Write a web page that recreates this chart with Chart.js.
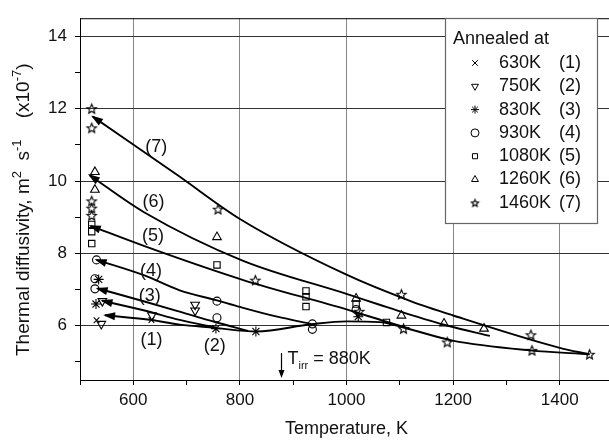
<!DOCTYPE html>
<html>
  <head>
    <title>Thermal diffusivity</title>
    <script src="https://cdn.jsdelivr.net/npm/chart.js"></script>
    <style>
      body {
        margin: 0;
        background: #fff;
      }
      .wrap {
        width: 609px;
        height: 440px;
        overflow: hidden;
      }
    </style>
  </head>

  <body>
    <div class="wrap"><canvas id="myChart" width="640" height="440"></canvas></div>

    <script>
      const annealTemps = ["630K", "750K", "830K", "930K", "1080K", "1260K", "1460K"];
      const curveNames = ["(1)", "(2)", "(3)", "(4)", "(5)", "(6)", "(7)"];
      const xTicks = [600, 800, 1000, 1200, 1400];
      const yTicks = [6, 8, 10, 12, 14];
      const yTickMarks = [5, 6, 7, 8, 9, 10, 11, 12, 13, 14];

      // measured points: temperature (K) / diffusivity (x1e-7 m2/s)
      const t630 = [531, 634];
      const d630 = [6.15, 6.16];
      const t750 = [540, 542, 635, 716, 716];
      const d750 = [6.05, 6.68, 6.29, 6.58, 6.42];
      const t830 = [530, 535, 755, 830, 1022];
      const d830 = [6.6, 7.28, 5.92, 5.84, 6.25];
      const t930 = [528, 528, 531, 757, 757, 936, 936, 1018];
      const d930 = [7.3, 7.02, 7.82, 6.68, 6.22, 6.05, 5.9, 6.45];
      const t1080 = [522, 522, 522, 757, 924, 924, 924, 1018, 1075];
      const d1080 = [8.8, 8.6, 8.27, 7.68, 6.96, 6.8, 6.53, 6.6, 6.09];
      const t1260 = [528, 528, 757, 1018, 1103, 1183, 1258];
      const d1260 = [10.25, 9.76, 8.45, 6.75, 6.28, 6.06, 5.92];
      const t1460 = [522, 522, 522, 522, 522, 759, 829, 1024, 1103, 1107, 1189, 1346, 1348, 1456];
      const d1460 = [12.0, 11.47, 9.45, 9.25, 9.05, 9.22, 7.26, 6.4, 6.87, 5.92, 5.55, 5.75, 5.32, 5.21];

      // fitted curves
      const fitT1 = [547, 634, 687, 752];
      const fitD1 = [6.29, 6.16, 6.03, 5.95];
      const fitT2 = [542, 621, 687, 752];
      const fitD2 = [6.69, 6.42, 6.16, 5.96];
      const fitT3 = [533, 621, 687, 752, 815];
      const fitD3 = [7.03, 6.67, 6.39, 6.11, 5.86];
      const fitT4 = [531, 621, 687, 757, 800, 870, 934];
      const fitD4 = [7.82, 7.39, 6.98, 6.7, 6.52, 6.25, 6.05];
      const fitT5 = [520, 621, 805, 1000, 1075, 1119];
      const fitD5 = [8.76, 8.2, 7.27, 6.45, 6.11, 5.92];
      const fitT6 = [518, 621, 805, 1000, 1062, 1110, 1190, 1269];
      const fitD6 = [10.16, 9.13, 7.8, 6.88, 6.58, 6.35, 6.0, 5.72];
      const fitT7 = [524, 684, 800, 1000, 1119, 1199, 1400, 1456];
      const fitD7 = [11.78, 10.15, 8.95, 7.41, 6.69, 6.29, 5.39, 5.21];
      const baseT = [752, 831, 934, 1000, 1062, 1107, 1199, 1344, 1456];
      const baseD = [5.94, 5.84, 6.04, 6.12, 6.1, 5.95, 5.59, 5.32, 5.21];

      // where the (n) tags sit
      const tagT = [634, 753, 631, 633, 637, 638, 643];
      const tagD = [5.61, 5.43, 6.83, 7.51, 8.49, 9.43, 10.93];
      const irrT = 877;

      const FONT = '"Liberation Sans", Arial, sans-serif';
      const INK = "#111";

      function starPath(g, cx, cy, R) {
        g.beginPath();
        for (let i = 0; i < 10; i++) {
          const a = -Math.PI / 2 + (i * Math.PI) / 5;
          const r = i % 2 ? R * 0.45 : R;
          const px = cx + r * Math.cos(a);
          const py = cy + r * Math.sin(a);
          if (i === 0) g.moveTo(px, py);
          else g.lineTo(px, py);
        }
        g.closePath();
      }

      function makeStar(R) {
        const c = document.createElement("canvas");
        const s = Math.ceil(2 * R + 3);
        c.width = s;
        c.height = s;
        const g = c.getContext("2d");
        starPath(g, s / 2, s / 2 + 0.5, R);
        g.lineWidth = 1.1;
        g.strokeStyle = "#000";
        g.stroke();
        return c;
      }

      const pts = (t, d) => t.map((v, i) => ({ x: v, y: d[i] }));

      const markT = [t630, t750, t830, t930, t1080, t1260, t1460];
      const markD = [d630, d750, d830, d930, d1080, d1260, d1460];
      const markStyle = ["crossRot", "triangle", "star", "circle", "rect", "triangle", makeStar(5)];
      const legStyle = ["crossRot", "triangle", "star", "circle", "rect", "triangle", makeStar(3.8)];
      const markRot = [0, 180, 0, 0, 0, 0, 0];
      const markRad = [4, 5, 5, 4, 4.5, 5, 5];

      const fits = [
        [fitT1, fitD1],
        [fitT2, fitD2],
        [fitT3, fitD3],
        [fitT4, fitD4],
        [fitT5, fitD5],
        [fitT6, fitD6],
        [fitT7, fitD7],
      ];

      const datasets = [];
      fits.forEach((f, i) => {
        datasets.push({
          label: "fit " + curveNames[i],
          data: pts(f[0], f[1]),
          showLine: true,
          arrow: true,
          cubicInterpolationMode: "monotone",
          borderColor: "#000",
          borderWidth: 1.9,
          pointRadius: 0,
          order: 2,
        });
      });
      datasets.push({
        label: "common",
        data: pts(baseT, baseD),
        showLine: true,
        cubicInterpolationMode: "monotone",
        borderColor: "#000",
        borderWidth: 1.9,
        pointRadius: 0,
        order: 2,
      });
      annealTemps.forEach((name, i) => {
        datasets.push({
          label: name,
          data: pts(markT[i], markD[i]),
          pointStyle: markStyle[i],
          rotation: markRot[i],
          radius: markRad[i],
          borderColor: "#000",
          backgroundColor: "rgba(0,0,0,0)",
          borderWidth: 1.1,
          order: 1,
        });
      });

      const decor = {
        id: "decor",
        afterDatasetsDraw(chart) {
          const ctx = chart.ctx;
          const a = chart.chartArea;
          const xs = chart.scales.x;
          const ys = chart.scales.y;
          ctx.save();

          // arrow heads at the start of the fitted curves
          chart.data.datasets.forEach((ds, i) => {
            if (!ds.arrow) return;
            const m = chart.getDatasetMeta(i).data;
            const p0 = m[0];
            let qx = p0.cp2x, qy = p0.cp2y;
            if (qx === undefined || Math.hypot(qx - p0.x, qy - p0.y) < 1) {
              qx = m[1].x;
              qy = m[1].y;
            }
            const ang = Math.atan2(p0.y - qy, p0.x - qx);
            const L = 10, W = 4;
            ctx.beginPath();
            ctx.moveTo(p0.x + Math.cos(ang) * 2, p0.y + Math.sin(ang) * 2);
            ctx.lineTo(p0.x - Math.cos(ang) * L + Math.sin(ang) * W, p0.y - Math.sin(ang) * L - Math.cos(ang) * W);
            ctx.lineTo(p0.x - Math.cos(ang) * L - Math.sin(ang) * W, p0.y - Math.sin(ang) * L + Math.cos(ang) * W);
            ctx.closePath();
            ctx.fillStyle = "#000";
            ctx.fill();
          });

          // curve tags
          ctx.fillStyle = INK;
          ctx.font = "18px " + FONT;
          ctx.textAlign = "center";
          ctx.textBaseline = "middle";
          curveNames.forEach((n, i) => {
            ctx.fillText(n, xs.getPixelForValue(tagT[i]), ys.getPixelForValue(tagD[i]));
          });

          // T_irr marker
          const ax = Math.round(xs.getPixelForValue(irrT)) + 0.5;
          ctx.strokeStyle = "#000";
          ctx.lineWidth = 1.2;
          ctx.beginPath();
          ctx.moveTo(ax, a.bottom - 27);
          ctx.lineTo(ax, a.bottom - 6);
          ctx.stroke();
          ctx.beginPath();
          ctx.moveTo(ax, a.bottom - 2);
          ctx.lineTo(ax - 3, a.bottom - 10);
          ctx.lineTo(ax + 3, a.bottom - 10);
          ctx.closePath();
          ctx.fillStyle = "#000";
          ctx.fill();
          ctx.fillStyle = INK;
          ctx.textAlign = "left";
          ctx.textBaseline = "alphabetic";
          let tx = ax + 6;
          const by = a.bottom - 16;
          ctx.font = "18px " + FONT;
          ctx.fillText("T", tx, by);
          tx += ctx.measureText("T").width;
          ctx.font = "11px " + FONT;
          ctx.fillText("irr", tx, by + 5);
          tx += ctx.measureText("irr").width;
          ctx.font = "18px " + FONT;
          ctx.fillText(" = 880K", tx, by);

          // frame
          ctx.strokeStyle = "#000";
          ctx.lineWidth = 1;
          ctx.strokeRect(a.left + 0.5, a.top + 0.5, a.right - a.left, a.bottom - a.top);

          // legend
          const lx = 445, ly = 18, lw = 152, lh = 205;
          ctx.fillStyle = "#fff";
          ctx.fillRect(lx, ly, lw, lh);
          ctx.strokeStyle = "#666";
          ctx.lineWidth = 1.2;
          ctx.strokeRect(lx + 0.5, ly + 0.5, lw, lh);
          ctx.fillStyle = INK;
          ctx.font = "18px " + FONT;
          ctx.textBaseline = "middle";
          ctx.fillText("Annealed at", lx + 8, ly + 21);
          annealTemps.forEach((name, i) => {
            const yy = ly + 45 + i * 23.3;
            ctx.fillStyle = INK;
            ctx.fillText(name, lx + 54, yy);
            ctx.fillText(curveNames[i], lx + 114, yy);
            ctx.strokeStyle = "#000";
            ctx.lineWidth = 1;
            ctx.fillStyle = "rgba(0,0,0,0)";
            Chart.helpers.drawPoint(
              ctx,
              { pointStyle: legStyle[i], rotation: markRot[i], radius: i === 4 ? 3.6 : 4, borderWidth: 1 },
              lx + 30,
              yy
            );
          });

          // y axis title with superscripts
          ctx.save();
          ctx.translate(29, 356);
          ctx.rotate(-Math.PI / 2);
          ctx.fillStyle = INK;
          ctx.textAlign = "left";
          ctx.textBaseline = "alphabetic";
          const parts = [
            ["Thermal diffusivity, m", 0],
            ["2", -8],
            ["  s", 0],
            ["-1", -8],
            ["    (x10", 0],
            ["-7", -8],
            [")", 0],
          ];
          let u = 0;
          parts.forEach(([txt, off]) => {
            ctx.font = (off ? "13px " : "19px ") + FONT;
            ctx.fillText(txt, u, off);
            u += ctx.measureText(txt).width;
          });
          ctx.restore();

          ctx.restore();
        },
      };

      const config = {
        type: "scatter",
        data: { datasets: datasets },
        options: {
          responsive: false,
          animation: false,
          devicePixelRatio: 1,
          layout: { padding: { top: 8, right: 27, left: 0, bottom: 0 } },
          plugins: {
            legend: { display: false },
            tooltip: { enabled: false },
          },
          scales: {
            x: {
              type: "linear",
              min: 500,
              max: 1500,
              afterFit: (s) => {
                s.height = 60;
              },
              ticks: {
                stepSize: 100,
                padding: 5,
                color: INK,
                font: { size: 17, family: FONT },
                maxRotation: 0,
                autoSkip: false,
                callback: (v) => (xTicks.includes(v) ? v : ""),
              },
              grid: {
                color: (c) => (c.tick && xTicks.includes(c.tick.value) ? "#888" : "rgba(0,0,0,0)"),
                tickColor: "#000",
                tickLength: 5,
                lineWidth: 1,
              },
              border: { color: "#000", width: 1 },
              title: {
                display: true,
                text: "Temperature, K",
                color: INK,
                font: { size: 18, family: FONT },
                padding: { top: 0, bottom: 0 },
              },
            },
            y: {
              type: "linear",
              min: 4.5,
              max: 14.5,
              afterFit: (s) => {
                s.width = 80;
              },
              afterBuildTicks: (s) => {
                s.ticks = yTickMarks.map((v) => ({ value: v }));
              },
              ticks: {
                padding: 8,
                color: INK,
                font: { size: 17, family: FONT },
                autoSkip: false,
                callback: (v) => (yTicks.includes(v) ? v : ""),
              },
              grid: {
                color: (c) => (c.tick && yTicks.includes(c.tick.value) ? "#333" : "rgba(0,0,0,0)"),
                tickColor: "#000",
                tickLength: 5,
                lineWidth: 1,
              },
              border: { color: "#000", width: 1 },
            },
          },
        },
        plugins: [decor],
      };

      Chart.defaults.font.family = FONT;
      const myChart = new Chart(document.getElementById("myChart"), config);
    </script>
  </body>
</html>
